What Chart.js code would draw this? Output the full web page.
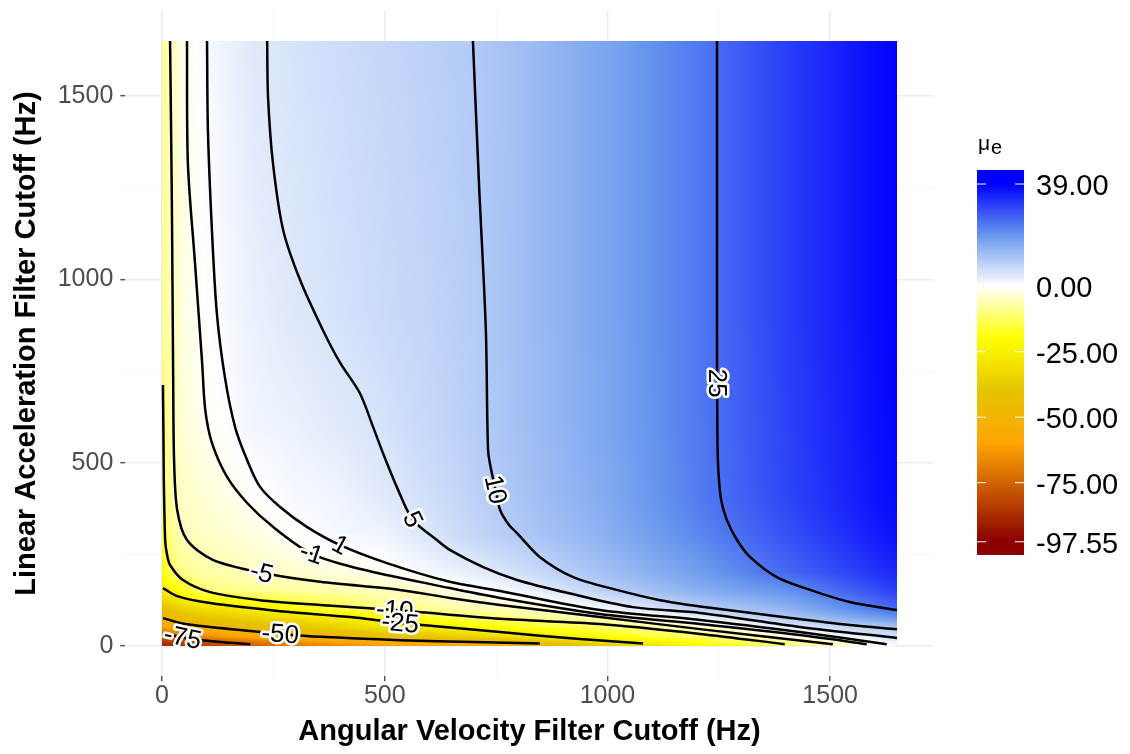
<!DOCTYPE html>
<html><head><meta charset="utf-8">
<script src="https://cdn.jsdelivr.net/npm/chart.js@4.4.0/dist/chart.umd.min.js"></script>
<style>html,body{margin:0;padding:0;background:#fff}</style>
</head><body>
<canvas id="c" width="1130" height="754"></canvas>
<script>
// ---------- data ----------
const xMajorTicks = [0, 500, 1000, 1500];
const yMajorTicks = [0, 500, 1000, 1500];
const minorTicks = [250, 750, 1250];
const legendBreaks = [39, 0, -25, -50, -75, -97.55];

// field of mu_e, sampled on a grid (x = angular velocity cutoff, y = linear accel cutoff)
const fieldX = [0, 25, 50, 100, 200, 300, 400, 500, 600, 700, 800, 1000, 1200, 1400, 1650];
const fieldY = [0, 10, 25, 50, 75, 100, 150, 200, 300, 400, 600, 900, 1650];
const row0    = [-90, -88, -86, -83, -76, -70, -66, -62, -58, -55, -51, -37, -22, -12, 1];
const row10   = [-86, -84, -82, -79, -72, -66, -60, -56, -53, -50.5, -45, -31, -19, -8.5, 2.5];
const row25   = [-78, -75, -72, -66, -59, -53, -48, -43, -39, -35, -30, -20, -12, -3, 5.5];
const row50   = [-63, -59, -56, -52, -45, -40, -35, -30, -27, -22, -19, -12, -4.5, 2.8, 10.5];
const row75   = [-50, -47, -44, -40, -35, -31, -27, -21, -17, -13, -10, -5.2, 1.6, 9.5, 19];
const row100  = [-43, -38, -35, -31, -27, -20, -15, -10, -8.3, -6.5, -5.2, 1.5, 8.3, 14, 25.5];
const row150  = [-26, -22, -18, -10.5, -8.7, -7.4, -6.5, -5.6, -4, -0.4, 1.6, 8.8, 15, 20, 31];
const row200  = [-21, -11, -9, -6.7, -5.1, -3.9, -2.6, -0.9, 1.3, 3.2, 5.8, 12, 18, 25.6, 34];
const row300  = [-14, -8, -5, -4.3, -2.7, -0.1, 1.3, 2, 4.8, 7.5, 10, 15, 21.5, 28.5, 37];
const row400  = [-12.5, -6.3, -4.3, -3.2, -0.6, 1.2, 2, 4, 6, 8.5, 11, 16, 23, 30, 38];
const row600  = [-11, -5.3, -3, -1.1, 1.8, 2.6, 4, 5.4, 7.4, 9.3, 11.7, 16.8, 23.3, 30.5, 38.5];
const row900  = [-9, -5, -2.2, 0, 2.6, 4.3, 5.6, 6.8, 8, 9.6, 12, 17, 23.5, 31, 39];
const row1650 = [-8, -4.5, -1.3, 1, 4, 5.5, 6.5, 7.5, 8.8, 10, 12, 17, 23.5, 31, 39];
const fieldRows = [row0, row10, row25, row50, row75, row100, row150, row200, row300, row400, row600, row900, row1650];

// contour lines [x, y]
const contourP25 = [[1246,1650],[1246,1200],[1246,800],[1247,560],[1249,480],[1255,400],[1268,344],[1291,289],[1320,243],[1380,188],[1455,153],[1544,120],[1650,98]];
const contourP10 = [[698,1650],[712,1250],[727,862],[732,534],[739,480],[750,420],[759,371],[779,330],[797,308],[848,243],[923,188],[1021,153],[1118,125],[1208,108],[1394,79],[1544,57],[1650,46]];
const contourP5  = [[236,1650],[238,1497],[249,1317],[272,1134],[310,998],[361,862],[400,772],[444,690],[474,597],[496,526],[527,434],[563,344],[617,289],[646,262],[721,215],[797,180],[909,145],[1057,106],[1208,90],[1432,52],[1650,22]];
const contourP1  = [[101,1650],[103,1407],[112,1134],[123,908],[141,734],[164,597],[191,507],[220,434],[265,379],[325,325],[400,275],[505,226],[646,175],[759,150],[983,98],[1208,71],[1432,38],[1627,5]];
const contourM1  = [[56,1650],[58,1317],[74,1044],[90,772],[97,644],[112,554],[146,461],[191,390],[249,325],[332,254],[429,215],[646,158],[759,131],[983,87],[1208,60],[1432,30],[1582,5]];
const contourM5  = [[18,1650],[22,1216],[25,725],[27,507],[34,371],[56,289],[114,235],[227,199],[355,175],[534,153],[646,131],[759,112],[983,79],[1208,46],[1506,5]];
const contourM10 = [[2,712],[3,600],[4,453],[7,289],[11,250],[18,221],[47,180],[108,147],[220,125],[355,112],[523,98],[759,74],[983,60],[1208,33],[1398,5]];
const contourM25 = [[2,158],[34,136],[108,117],[265,95],[422,79],[534,63],[759,38],[938,19],[1080,7]];
const contourM50 = [[2,76],[52,60],[198,41],[265,33],[355,25],[534,16],[700,11],[848,7]];
const contourM75 = [[2,35],[52,22],[130,11],[198,5]];
const contourLevels = [25, 10, 5, 1, -1, -5, -10, -25, -50, -75];
const contourLines = [contourP25, contourP10, contourP5, contourP1, contourM1, contourM5, contourM10, contourM25, contourM50, contourM75];

// label anchors [level, x, y]
const labelLevels = [25, 10, 5, 1, -1, -5, -10, -25, -50, -75];
const labelX = [1246, 743, 561, 400, 332, 224, 523, 534, 265, 45];
const labelY = [717, 425, 344, 275, 240, 202, 106, 55, 27, 16];

// colour scale stops
const stopValues = [-97.55, -60, -40, -20, 0, 20, 39];
const stopColors = [[139,0,0],[255,165,0],[230,195,0],[255,255,0],[255,255,255],[100,149,237],[0,0,255]];

// ---------- helpers ----------
function colorFor(v){
  if (v <= stopValues[0]) return stopColors[0];
  const n = stopValues.length;
  if (v >= stopValues[n-1]) return stopColors[n-1];
  for (let i=0;i<n-1;i++){
    if (v <= stopValues[i+1]){
      const t = (v - stopValues[i])/(stopValues[i+1]-stopValues[i]);
      const a = stopColors[i], b = stopColors[i+1];
      return [a[0]+(b[0]-a[0])*t, a[1]+(b[1]-a[1])*t, a[2]+(b[2]-a[2])*t];
    }
  }
  return stopColors[n-1];
}
function locate(arr, v){
  if (v <= arr[0]) return [0, 0];
  const n = arr.length;
  if (v >= arr[n-1]) return [n-2, 1];
  for (let i=0;i<n-1;i++){
    if (v <= arr[i+1]) return [i, (v-arr[i])/(arr[i+1]-arr[i])];
  }
  return [n-2,1];
}
function fieldAt(x, y){
  const [i, tx] = locate(fieldX, x);
  const [j, ty] = locate(fieldY, y);
  const r0 = fieldRows[j], r1 = fieldRows[j+1];
  const a = r0[i]*(1-tx) + r0[i+1]*tx;
  const b = r1[i]*(1-tx) + r1[i+1]*tx;
  return a*(1-ty) + b*ty;
}

const heatmapPlugin = {
  id: 'heatmap',
  beforeDatasetsDraw(chart){
    const {ctx, scales:{x, y}} = chart;
    const px0 = Math.round(x.getPixelForValue(fieldX[0]));
    const px1 = Math.round(x.getPixelForValue(fieldX[fieldX.length-1]));
    const py0 = Math.round(y.getPixelForValue(fieldY[fieldY.length-1]));
    const py1 = Math.round(y.getPixelForValue(fieldY[0]));
    const w = px1 - px0, h = py1 - py0;
    const off = document.createElement('canvas');
    off.width = w; off.height = h;
    const octx = off.getContext('2d');
    const img = octx.createImageData(w, h);
    for (let j=0;j<h;j++){
      const vy = y.getValueForPixel(py0 + j + 0.5);
      for (let i=0;i<w;i++){
        const vx = x.getValueForPixel(px0 + i + 0.5);
        const c = colorFor(fieldAt(vx, vy));
        const k = (j*w + i)*4;
        img.data[k] = c[0]; img.data[k+1] = c[1]; img.data[k+2] = c[2]; img.data[k+3] = 255;
      }
    }
    octx.putImageData(img, 0, 0);
    ctx.drawImage(off, px0, py0);
  }
};

const labelPlugin = {
  id: 'contourLabels',
  afterDatasetsDraw(chart){
    const {ctx, scales:{x, y}} = chart;
    ctx.save();
    ctx.font = '26px "Liberation Sans", Arial, sans-serif';
    ctx.textAlign = 'center';
    ctx.textBaseline = 'middle';
    ctx.lineJoin = 'round';
    for (let k=0;k<labelLevels.length;k++){
      const lvl = labelLevels[k];
      const line = contourLines[contourLevels.indexOf(lvl)];
      const lx = x.getPixelForValue(labelX[k]), ly = y.getPixelForValue(labelY[k]);
      let best = null;
      for (let s=0;s<line.length-1;s++){
        const ax = x.getPixelForValue(line[s][0]), ay = y.getPixelForValue(line[s][1]);
        const bx = x.getPixelForValue(line[s+1][0]), by = y.getPixelForValue(line[s+1][1]);
        const dx = bx-ax, dy = by-ay, L2 = dx*dx+dy*dy;
        let t = L2 ? ((lx-ax)*dx + (ly-ay)*dy)/L2 : 0;
        t = Math.max(0, Math.min(1, t));
        const qx = ax+dx*t, qy = ay+dy*t;
        const d = (qx-lx)*(qx-lx)+(qy-ly)*(qy-ly);
        if (!best || d < best.d) best = {d, qx, qy, dx, dy};
      }
      let ang = Math.atan2(best.dy, best.dx);
      while (ang > Math.PI/2 + 1e-6) ang -= Math.PI;
      while (ang <= -Math.PI/2 + 0.05) ang += Math.PI;
      ctx.save();
      ctx.translate(best.qx, best.qy);
      ctx.rotate(ang);
      const txt = String(lvl);
      ctx.strokeStyle = '#fff'; ctx.lineWidth = 5;
      ctx.strokeText(txt, 0, 1);
      ctx.fillStyle = '#000';
      ctx.fillText(txt, 0, 1);
      ctx.restore();
    }
    ctx.restore();
  }
};

const colorbarPlugin = {
  id: 'colorbar',
  afterDraw(chart){
    const ctx = chart.ctx;
    const barL = 977, barR = 1024, barT = 170, barB = 555;
    const zeroPx = 286.2, pxPerUnit = 2.62;
    ctx.save();
    for (let py = barT; py < barB; py++){
      const v = (zeroPx - (py + 0.5)) / pxPerUnit;
      const c = colorFor(v);
      ctx.fillStyle = 'rgb(' + c.map(Math.round).join(',') + ')';
      ctx.fillRect(barL, py, barR-barL, 1);
    }
    ctx.strokeStyle = '#fff'; ctx.lineWidth = 1;
    ctx.font = '29px "Liberation Sans", Arial, sans-serif';
    ctx.fillStyle = '#000';
    ctx.textAlign = 'left'; ctx.textBaseline = 'middle';
    for (const b of legendBreaks){
      const py = zeroPx - b*pxPerUnit;
      ctx.beginPath();
      ctx.moveTo(barL, py); ctx.lineTo(barL+9, py);
      ctx.moveTo(barR-9, py); ctx.lineTo(barR, py);
      ctx.stroke();
      ctx.fillText(b.toFixed(2), 1036, py + 3);
    }
    ctx.textBaseline = 'alphabetic';
    ctx.font = '21px "Liberation Sans", Arial, sans-serif';
    ctx.fillText('\u03BC', 978, 150);
    ctx.font = '20px "Liberation Sans", Arial, sans-serif';
    ctx.fillText('e', 991, 154);
    ctx.restore();
  }
};

// ---------- chart ----------
const axisMin = -82.5, axisMax = 1732.5;
const tickFont = {family: '"Liberation Sans", Arial, sans-serif', size: 25};
const titleFont = {family: '"Liberation Sans", Arial, sans-serif', size: 29, weight: 'bold'};
function allTicks(major){ return major.concat(minorTicks).sort((a,b)=>a-b); }
function isMajor(v){ return xMajorTicks.includes(v); }

const datasets = contourLines.map((pts, i) => ({
  label: String(contourLevels[i]),
  data: pts.map(p => ({x: p[0], y: p[1]})),
  showLine: true,
  borderColor: '#000',
  borderWidth: 2.5,
  pointRadius: 0,
  tension: 0.3,
  fill: false
}));

new Chart(document.getElementById('c'), {
  type: 'scatter',
  data: {datasets},
  options: {
    responsive: false,
    animation: false,
    devicePixelRatio: 1,
    layout: {padding: {left: 0, right: 196.3, top: 10.75, bottom: 0}},
    plugins: {legend: {display: false}, tooltip: {enabled: false}},
    scales: {
      x: {
        type: 'linear', min: axisMin, max: axisMax,
        afterBuildTicks: s => { s.ticks = allTicks(xMajorTicks).map(v => ({value: v})); },
        afterFit: s => { s.height = 77.75; s.paddingLeft = 0; s.paddingRight = 0; s.paddingTop = 0; s.paddingBottom = 0; },
        border: {display: false},
        grid: {
          color: c => isMajor(c.tick.value) ? '#EBEBEB' : '#F4F4F4',
          lineWidth: c => isMajor(c.tick.value) ? 1.5 : 0.8,
          tickColor: c => isMajor(c.tick.value) ? '#333333' : 'rgba(0,0,0,0)',
          tickLength: 5, tickWidth: 1.2
        },
        ticks: {autoSkip: false, maxRotation: 0, padding: 0, color: '#4D4D4D', font: tickFont,
          callback: v => xMajorTicks.includes(v) ? String(v) : ''},
        title: {display: true, text: 'Angular Velocity Filter Cutoff (Hz)', color: '#000', font: titleFont, padding: {top: 0, bottom: 5}}
      },
      y: {
        type: 'linear', min: axisMin, max: axisMax,
        afterBuildTicks: s => { s.ticks = allTicks(yMajorTicks).map(v => ({value: v})); },
        afterFit: s => { s.width = 125.3; s.paddingTop = 0; s.paddingBottom = 0; s.paddingLeft = 0; s.paddingRight = 0; },
        border: {display: false},
        grid: {
          color: c => isMajor(c.tick.value) ? '#EBEBEB' : '#F4F4F4',
          lineWidth: c => isMajor(c.tick.value) ? 1.5 : 0.8,
          tickColor: c => isMajor(c.tick.value) ? '#333333' : 'rgba(0,0,0,0)',
          tickLength: 5, tickWidth: 1.2
        },
        ticks: {autoSkip: false, padding: 7, color: '#4D4D4D', font: tickFont,
          callback: v => yMajorTicks.includes(v) ? String(v) : ''},
        title: {display: true, text: 'Linear Acceleration Filter Cutoff (Hz)', color: '#000', font: titleFont, padding: {top: 10, bottom: 0}}
      }
    }
  },
  plugins: [heatmapPlugin, labelPlugin, colorbarPlugin]
});
</script>
</body></html>
